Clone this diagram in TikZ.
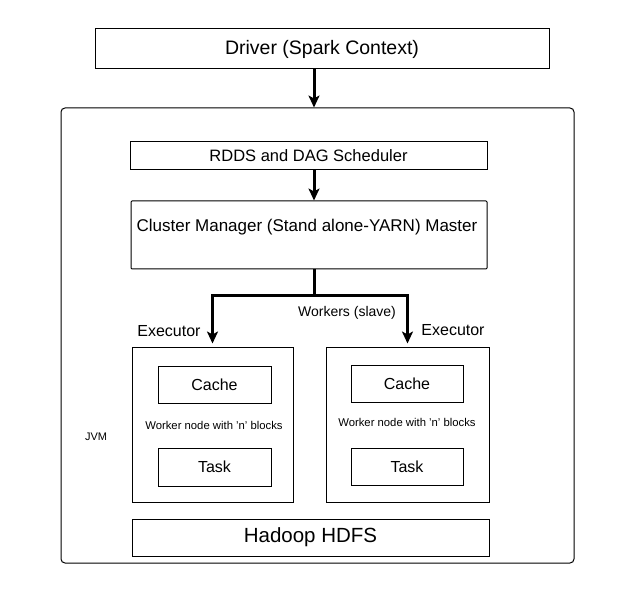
\documentclass[tikz,border=0pt]{standalone}
\usepackage{fontspec}
\setmainfont{Liberation Sans}
\usetikzlibrary{arrows.meta}

\begin{document}
\begin{tikzpicture}[x=1pt,y=-1pt,
	box/.style={draw,line width=1pt,inner sep=0pt},
	flow/.style={line width=3pt,-{Stealth[length=12pt,width=11pt,inset=3pt]}},
	fs/.style={font=\fontsize{#1}{#1}\selectfont}]
	\useasboundingbox[fill=white] (0,0) rectangle (632,596);
				\node[box,minimum width=454pt,minimum height=40pt,fs=19.5](driver) at (322,49){Driver (Spark Context)};
				\node[box,rounded corners=4pt,minimum width=513pt,minimum height=455pt](jvm) at (317.5,335.5){};
				\node[fs=11](jvmtext) at (96,437){JVM};
				\node[box,minimum width=357pt,minimum height=28pt,fs=16.5](rdds) at (308.5,156){RDDS and DAG Scheduler};
				\node[box,rounded corners=1pt,minimum width=356pt,minimum height=68pt](cluster) at (309,235){};
				\node[fs=17](clustertext) at (307,227){Cluster Manager (Stand alone-YARN) Master};
				\coordinate(trunk) at (314,0);
				\coordinate(split) at (314,295);
				% worker nodes
				\node[box,minimum width=161pt,minimum height=155pt](workerL) at (212.5,424.5){};
				\node[box,minimum width=163pt,minimum height=155pt](workerR) at (407.5,424.5){};
				\node[box,minimum width=113pt,minimum height=37pt,fs=16](cacheL) at (214.5,384.5){Cache};
				\node[box,minimum width=113pt,minimum height=38pt,fs=16](taskL) at (214.5,467){Task};
				\node[box,minimum width=112pt,minimum height=37pt,fs=16](cacheR) at (407,383.5){Cache};
				\node[box,minimum width=112pt,minimum height=37pt,fs=16](taskR) at (407,466.5){Task};
				\node[fs=11.3](blocksL) at (214,425){Worker node with 'n' blocks};
				\node[fs=11.3](blocksR) at (407,422){Worker node with 'n' blocks};
				\node[fs=16](execL) at (169,331){Executor};
				\node[fs=16](execR) at (453,330){Executor};
				\node[fs=14](workers) at (347,313){Workers (slave)};
				\node[box,minimum width=357pt,minimum height=37pt,fs=20.5](hdfs) at (310.5,537.5){Hadoop HDFS};
				% arrows
				\draw[flow](driver.south -| trunk) to (jvm.north -| trunk);
				\draw[flow](rdds.south -| trunk) to (cluster.north -| trunk);
				\draw[flow,shorten >=3pt](cluster.south -| split) to (split) -| (workerL.north);
				\draw[flow,shorten >=3pt](split) -| (workerR.north);
\end{tikzpicture}
\end{document}
